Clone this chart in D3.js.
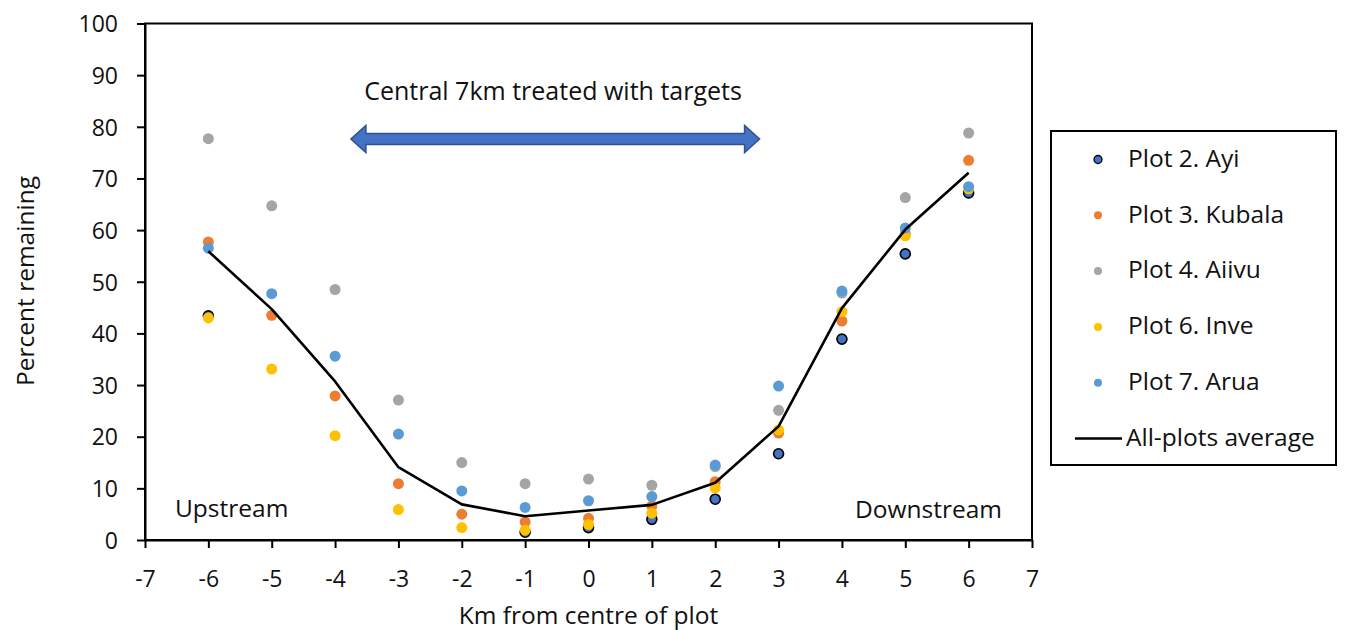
<!DOCTYPE html>
<html>
<head>
<meta charset="utf-8">
<script src="https://cdn.jsdelivr.net/npm/d3@7"></script>
<style>
  html, body { margin: 0; padding: 0; background: #fff; }
  svg { display: block; font-family: "Open Sans", sans-serif; }
</style>
</head>
<body>
<svg id="chart" width="1347" height="630"></svg>
<script>
// Distance from the centre of each plot (km)
const km = [-6, -5, -4, -3, -2, -1, 0, 1, 2, 3, 4, 5, 6];

// Percent remaining per plot (null = no reading)
const ayi    = [43.4, null, null, null, null, 1.5, 2.4, 4.0, 7.9, 16.7, 38.9, 55.4, 67.2];
const kubala = [57.7, 43.5, 27.9, 10.9, 5.0, 3.5, 4.2, 6.6, 11.3, 20.7, 42.4, 59.3, 73.5];
const aiivu  = [77.7, 64.7, 48.5, 27.1, 15.0, 10.9, 11.8, 10.6, 14.2, 25.1, 47.8, 66.3, 78.8];
const inve   = [43.0, 33.1, 20.2, 5.9, 2.4, 1.9, 3.0, 5.2, 10.1, 21.3, 44.2, 58.9, 68.0];
const arua   = [56.5, 47.7, 35.6, 20.5, 9.5, 6.3, 7.6, 8.4, 14.5, 29.8, 48.2, 60.4, 68.4];
const average = [55.9, 44.7, 30.7, 14.1, 6.9, 4.6, 5.7, 6.8, 11.1, 22.0, 44.9, 60.1, 71.1];

const seriesNames = ["Plot 2. Ayi", "Plot 3. Kubala", "Plot 4. Aiivu", "Plot 6. Inve", "Plot 7. Arua"];
const seriesColors = ["#4472C4", "#ED7D31", "#A5A5A5", "#FFC000", "#5B9BD5"];
const seriesValues = [ayi, kubala, aiivu, inve, arua];
const averageName = "All-plots average";

const xTicks = [-7, -6, -5, -4, -3, -2, -1, 0, 1, 2, 3, 4, 5, 6, 7];
const yTicks = [0, 10, 20, 30, 40, 50, 60, 70, 80, 90, 100];

const xTitle = "Km from centre of plot";
const yTitle = "Percent remaining";
const bandLabel = "Central 7km treated with targets";
const bandFrom = -3.75, bandTo = 2.7;

const svg = d3.select("#chart");
const plotL = 145, plotR = 1032, plotT = 23.5, plotB = 540;

const x = d3.scaleLinear().domain([-7, 7]).range([plotL, plotR]);
const y = d3.scaleLinear().domain([0, 100]).range([plotB, plotT]);

// plot frame
svg.append("rect")
  .attr("x", plotL).attr("y", plotT)
  .attr("width", plotR - plotL).attr("height", plotB - plotT)
  .attr("fill", "none").attr("stroke", "#000").attr("stroke-width", 2);

// axes
const xAxis = svg.append("g")
  .attr("transform", `translate(0,${plotB})`)
  .call(d3.axisBottom(x).tickValues(xTicks).tickFormat(d => String(d)).tickSize(8).tickSizeOuter(0).tickPadding(23));
const yAxis = svg.append("g")
  .attr("transform", `translate(${plotL},0)`)
  .call(d3.axisLeft(y).tickValues(yTicks).tickFormat(d => String(d)).tickSize(8).tickSizeOuter(0).tickPadding(19));

[xAxis, yAxis].forEach(g => {
  g.select(".domain").attr("stroke", "#000").attr("stroke-width", 2);
  g.selectAll(".tick line").attr("stroke", "#000").attr("stroke-width", 2);
  g.selectAll(".tick text")
    .attr("fill", "#111")
    .style("font-family", "'Open Sans', sans-serif")
    .style("font-size", "23px");
});
yAxis.selectAll(".tick text").attr("dy", "0.36em");

// axis titles
svg.append("text")
  .attr("x", (plotL + plotR) / 2).attr("y", 624)
  .attr("text-anchor", "middle")
  .style("font-size", "24.5px").attr("fill", "#111")
  .text(xTitle);
svg.append("text")
  .attr("transform", `translate(34,281) rotate(-90)`)
  .attr("text-anchor", "middle")
  .style("font-size", "24.5px").attr("fill", "#111")
  .text(yTitle);

// treated-band arrow
const arrowY = 139;
const ax0 = x(bandFrom), ax1 = x(bandTo);
const shaft = 5.5, head = 13.5, headLen = 15;
const arrowPath = [
  [ax0, arrowY],
  [ax0 + headLen, arrowY - head],
  [ax0 + headLen, arrowY - shaft],
  [ax1 - headLen, arrowY - shaft],
  [ax1 - headLen, arrowY - head],
  [ax1, arrowY],
  [ax1 - headLen, arrowY + head],
  [ax1 - headLen, arrowY + shaft],
  [ax0 + headLen, arrowY + shaft],
  [ax0 + headLen, arrowY + head]
];
svg.append("path")
  .attr("d", d3.line()(arrowPath) + "Z")
  .attr("fill", "#4472C4").attr("stroke", "#2F528F").attr("stroke-width", 1.5);

svg.append("text")
  .attr("x", 553).attr("y", 100)
  .attr("text-anchor", "middle")
  .style("font-size", "25px").attr("fill", "#111")
  .text(bandLabel);

svg.append("text").attr("x", 175).attr("y", 517)
  .style("font-size", "24.5px").attr("fill", "#111").text("Upstream");
svg.append("text").attr("x", 1002).attr("y", 518).attr("text-anchor", "end")
  .style("font-size", "24.5px").attr("fill", "#111").text("Downstream");

// points
seriesValues.forEach((vals, i) => {
  const pts = km.map((k, j) => ({ k, v: vals[j] })).filter(d => d.v != null);
  svg.append("g").selectAll("circle").data(pts).join("circle")
    .attr("cx", d => x(d.k)).attr("cy", d => y(d.v))
    .attr("r", i === 0 ? 5 : 5.5)
    .attr("fill", seriesColors[i])
    .attr("stroke", i === 0 ? "#000" : "none")
    .attr("stroke-width", 1.6);
});

// average line
svg.append("path")
  .datum(km.map((k, j) => [k, average[j]]))
  .attr("d", d3.line().x(d => x(d[0])).y(d => y(d[1])))
  .attr("fill", "none").attr("stroke", "#000").attr("stroke-width", 2.6)
  .attr("stroke-linejoin", "round");

// legend
const lg = svg.append("g");
lg.append("rect").attr("x", 1051).attr("y", 131).attr("width", 285).attr("height", 334)
  .attr("fill", "#fff").attr("stroke", "#000").attr("stroke-width", 2);
const rowY = d3.scaleLinear().domain([0, 5]).range([159.5, 438.5]);
seriesNames.forEach((name, i) => {
  lg.append("circle").attr("cx", 1098).attr("cy", rowY(i)).attr("r", 4)
    .attr("fill", seriesColors[i])
    .attr("stroke", i === 0 ? "#000" : "none").attr("stroke-width", 1.3);
  lg.append("text").attr("x", 1128).attr("y", rowY(i)).attr("dy", "0.3em")
    .style("font-size", "24.5px").attr("fill", "#111").text(name);
});
lg.append("line").attr("x1", 1075).attr("x2", 1122).attr("y1", rowY(5)).attr("y2", rowY(5))
  .attr("stroke", "#000").attr("stroke-width", 2.6);
lg.append("text").attr("x", 1126).attr("y", rowY(5)).attr("dy", "0.3em")
  .style("font-size", "24.5px").attr("fill", "#111").text(averageName);
</script>
</body>
</html>
